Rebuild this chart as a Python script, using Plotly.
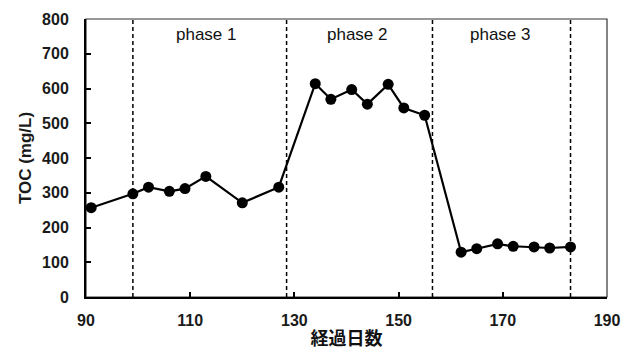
import plotly.graph_objects as go

# Elapsed days and TOC concentration
days = [91, 99, 102, 106, 109, 113, 120, 127,
        134, 137, 141, 144, 148, 151, 155,
        162, 165, 169, 172, 176, 179, 183]
toc = [257, 297, 316, 304, 312, 347, 271, 316,
       614, 569, 597, 555, 612, 544, 523,
       129, 139, 153, 146, 144, 141, 144]

# Phase boundaries (days) and phase labels
boundaries = [99, 128.5, 156.5, 183]
phase_names = ["phase 1", "phase 2", "phase 3"]
phase_label_x = [113.2, 142.2, 169.5]

x_ticks = [90, 110, 130, 150, 170, 190]
y_ticks = [0, 100, 200, 300, 400, 500, 600, 700, 800]

font_family = "Arial, Liberation Sans, sans-serif"

fig = go.Figure()
fig.add_trace(go.Scatter(
    x=days, y=toc, mode="lines+markers",
    line=dict(color="black", width=2.2),
    marker=dict(color="black", size=11),
    showlegend=False,
))

shapes = []
for b in boundaries:
    shapes.append(dict(type="line", xref="x", yref="y", x0=b, x1=b, y0=0, y1=800,
                       line=dict(color="black", width=1.5, dash="4px,3px"), layer="below"))
# thin frame around plot area
shapes.append(dict(type="rect", xref="paper", yref="paper", x0=0, x1=1, y0=0, y1=1,
                   line=dict(color="#333333", width=1.2), layer="below"))

annotations = []
for name, px in zip(phase_names, phase_label_x):
    annotations.append(dict(x=px, y=756, xref="x", yref="y", text=name, showarrow=False,
                            font=dict(family=font_family, size=17, color="#111111")))

fig.update_layout(
    width=634, height=356,
    margin=dict(l=86, r=27, t=19, b=59),
    paper_bgcolor="white", plot_bgcolor="white",
    shapes=shapes, annotations=annotations,
    font=dict(family=font_family, color="#111111"),
    xaxis=dict(
        range=[90, 190], tickvals=x_ticks, ticks="inside", ticklen=5, tickwidth=1.5,
        tickcolor="black", showline=True, linecolor="black", linewidth=2,
        showgrid=False, zeroline=False, automargin=False,
        tickfont=dict(size=16, family=font_family, weight="bold", color="#1a1a1a"),
        title=dict(text="<b>経過日数</b>", font=dict(size=18, family="Noto Sans CJK JP"), standoff=4),
        ticklabelstandoff=8,
    ),
    yaxis=dict(
        range=[0, 800], tickvals=y_ticks, ticks="inside", ticklen=5, tickwidth=1.5,
        tickcolor="black", showline=True, linecolor="black", linewidth=2,
        showgrid=False, zeroline=False, automargin=False,
        tickfont=dict(size=16, family=font_family, weight="bold", color="#1a1a1a"),
        title=dict(text="TOC (mg/L)", font=dict(size=17, family=font_family, weight="bold",
                                                 color="#1a1a1a"), standoff=6),
        ticklabelstandoff=12,
    ),
)

fig.write_html("out.html")
